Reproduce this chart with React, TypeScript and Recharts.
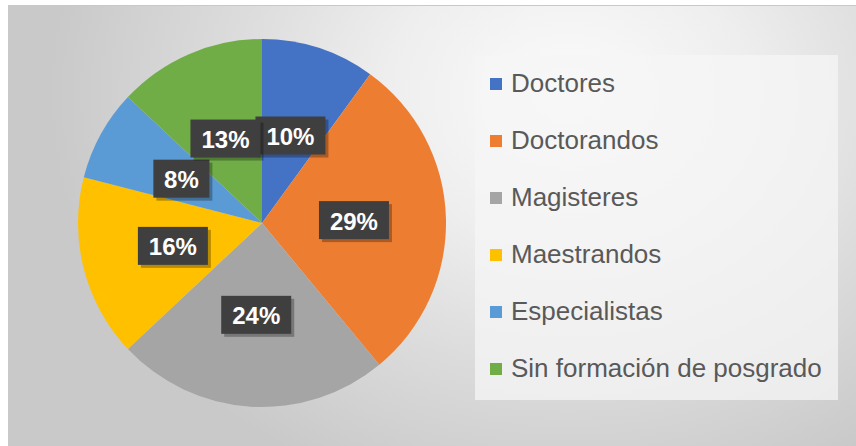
import React from "react";
import { PieChart, Pie, Cell, Legend } from "recharts";

const categories = [
  "Doctores",
  "Doctorandos",
  "Magisteres",
  "Maestrandos",
  "Especialistas",
  "Sin formación de posgrado",
];
const percentages = [10, 29, 24, 16, 8, 13];
const colors = ["#4472C4", "#ED7D31", "#A5A5A5", "#FFC000", "#5B9BD5", "#70AD47"];

const data = categories.map((name, i) => ({ name, value: percentages[i] }));

const RAD = Math.PI / 180;

const renderLabel = (props: any) => {
  const { cx, cy, midAngle, outerRadius, value, index } = props;
  const r = outerRadius * 0.5;
  const x = cx + r * Math.cos(-midAngle * RAD);
  const y = cy + r * Math.sin(-midAngle * RAD);
  const text = `${value}%`;
  const w = text.length >= 3 ? 70 : 56;
  const h = 38;
  return (
    <g key={`lbl-${index}`}>
      <rect x={x - w / 2 + 3} y={y - h / 2 + 3} width={w} height={h} fill="rgba(0,0,0,0.28)" />
      <rect x={x - w / 2} y={y - h / 2} width={w} height={h} fill="#3f3f3f" />
      <text
        x={x}
        y={y + 1}
        textAnchor="middle"
        dominantBaseline="central"
        fill="#ffffff"
        fontFamily="'Liberation Sans', Arial, sans-serif"
        fontWeight="bold"
        fontSize={24}
      >
        {text}
      </text>
    </g>
  );
};

const renderLegend = (props: any) => {
  const payload = [...(props.payload || [])].sort(
    (a: any, b: any) => categories.indexOf(a.value) - categories.indexOf(b.value)
  );
  return (
    <div style={{ fontFamily: "'Liberation Sans', Arial, sans-serif" }}>
      {payload.map((entry: any, i: number) => (
        <div
          key={`leg-${i}`}
          style={{ height: 57, display: "flex", alignItems: "center" }}
        >
          <span
            style={{
              width: 12,
              height: 12,
              background: entry.color,
              display: "inline-block",
              marginRight: 9,
            }}
          />
          <span style={{ fontSize: 26, color: "#595959", whiteSpace: "nowrap" }}>
            {entry.value}
          </span>
        </div>
      ))}
    </div>
  );
};

export default function App() {
  return (
    <div
      style={{
        position: "absolute",
        left: 0,
        top: 0,
        width: 856,
        height: 446,
        background: "#ffffff",
        overflow: "hidden",
      }}
    >
      <div
        style={{
          position: "absolute",
          left: 8,
          top: 5,
          width: 848,
          height: 441,
          borderTop: "1px solid #c8c8c8",
          background:
            "radial-gradient(ellipse 520px 420px at 560px 90px, #fbfbfb 0%, #eeeeee 35%, #dcdcdc 65%, #c9c9c9 100%)",
        }}
      />
      <div
        style={{
          position: "absolute",
          left: 475,
          top: 55,
          width: 363,
          height: 345,
          background: "rgba(246,246,246,0.75)",
        }}
      />
      <div style={{ position: "absolute", left: 0, top: 0 }}>
        <PieChart width={856} height={446} margin={{ top: 0, right: 0, bottom: 0, left: 0 }}>
          <Pie
            data={data}
            dataKey="value"
            nameKey="name"
            cx={262}
            cy={223}
            outerRadius={184}
            startAngle={90}
            endAngle={-270}
            stroke="none"
            label={renderLabel}
            labelLine={false}
            isAnimationActive={false}
          >
            {data.map((d, i) => (
              <Cell key={d.name} fill={colors[i]} />
            ))}
          </Pie>
          <Legend
            layout="vertical"
            align="right"
            verticalAlign="top"
            content={renderLegend}
            wrapperStyle={{ left: 490, top: 55, width: 360, right: "auto" }}
          />
        </PieChart>
      </div>
    </div>
  );
}
